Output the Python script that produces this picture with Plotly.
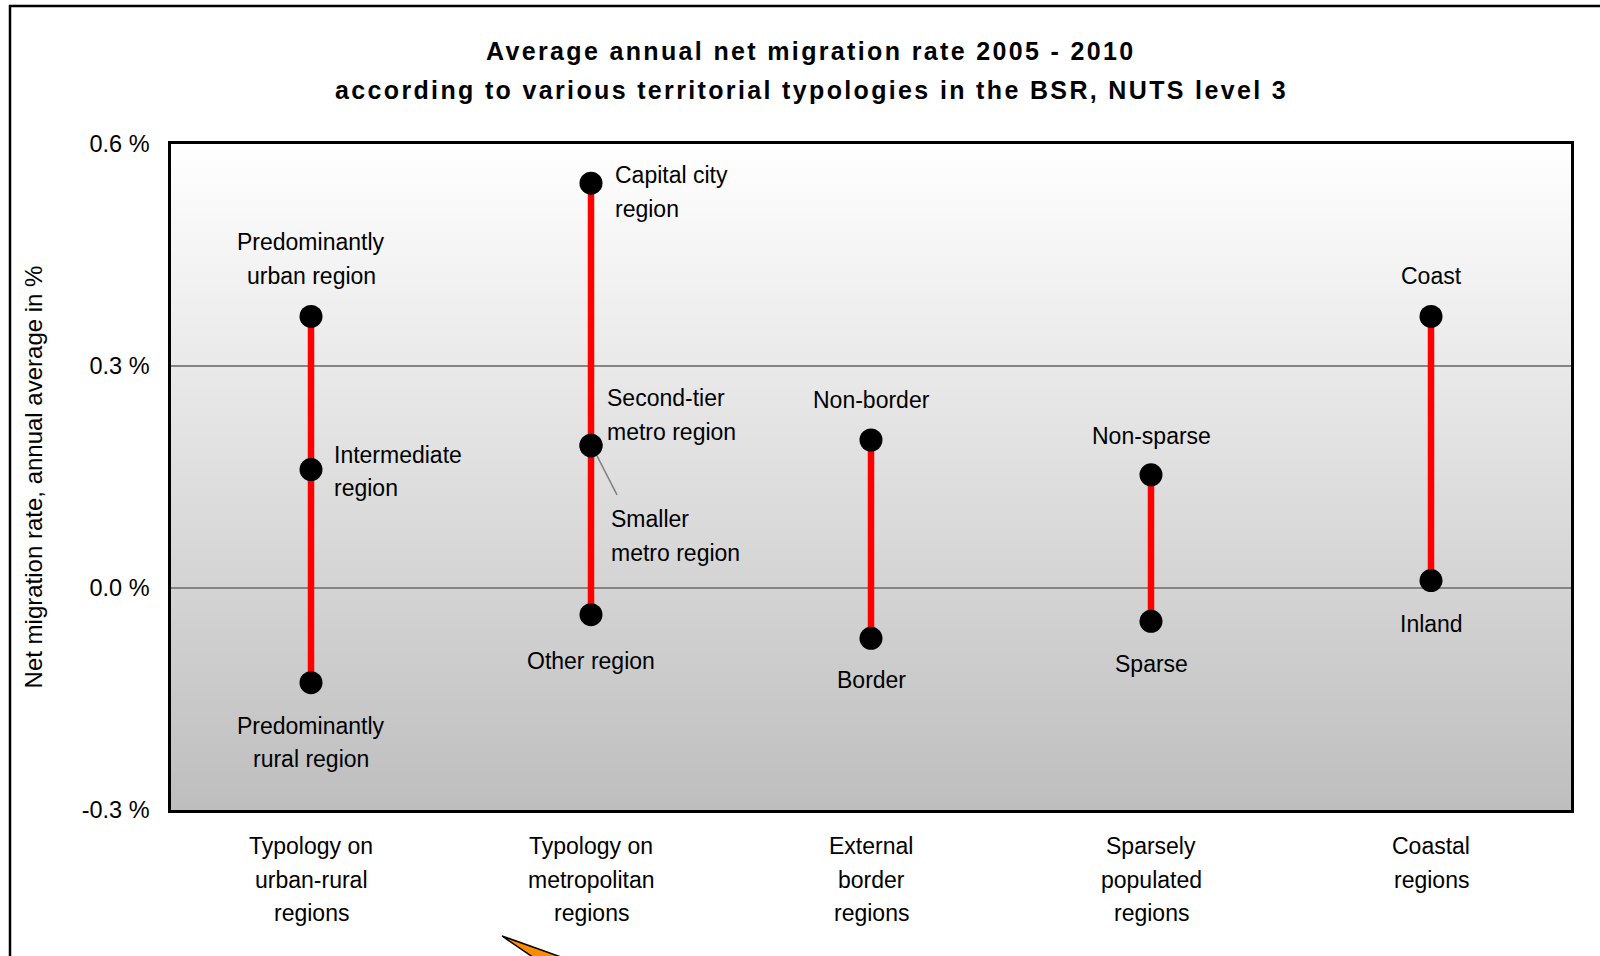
import plotly.graph_objects as go

# ---- data -------------------------------------------------------------
group_labels = [
    ["Typology on", "urban-rural", "regions"],
    ["Typology on", "metropolitan", "regions"],
    ["External", "border", "regions"],
    ["Sparsely", "populated", "regions"],
    ["Coastal", "regions"],
]

urban_rural_names = ["Predominantly urban region", "Intermediate region", "Predominantly rural region"]
urban_rural_values = [0.367, 0.160, -0.128]

metro_names = ["Capital city region", "Second-tier metro region", "Smaller metro region", "Other region"]
metro_values = [0.547, 0.193, 0.192, -0.036]

border_names = ["Non-border", "Border"]
border_values = [0.200, -0.068]

sparse_names = ["Non-sparse", "Sparse"]
sparse_values = [0.153, -0.045]

coastal_names = ["Coast", "Inland"]
coastal_values = [0.367, 0.010]

y_ticks = [-0.3, 0.0, 0.3, 0.6]
y_tick_text = ["-0.3 %", "0.0 %", "0.3 %", "0.6 %"]

series = [
    (urban_rural_names, urban_rural_values),
    (metro_names, metro_values),
    (border_names, border_values),
    (sparse_names, sparse_values),
    (coastal_names, coastal_values),
]

# ---- label styling: line breaks and pixel offsets from the point --------
label_lines = {
    "Predominantly urban region": ["Predominantly", "urban region"],
    "Intermediate region": ["Intermediate", "region"],
    "Predominantly rural region": ["Predominantly", "rural region"],
    "Capital city region": ["Capital city", "region"],
    "Second-tier metro region": ["Second-tier", "metro region"],
    "Smaller metro region": ["Smaller", "metro region"],
}
# (dx, dy of first line centre, anchor); dy positive = downward
label_place = {
    "Predominantly urban region": (0, -74, "center"),
    "Intermediate region": (21, -15, "left"),
    "Predominantly rural region": (0, 43, "center"),
    "Capital city region": (22, -8, "left"),
    "Second-tier metro region": (14, -47, "left"),
    "Smaller metro region": (18, 73, "left"),
    "Other region": (0, 46, "center"),
    "Non-border": (0, -40, "center"),
    "Border": (0, 42, "center"),
    "Non-sparse": (0, -39, "center"),
    "Sparse": (0, 43, "center"),
    "Coast": (0, -40, "center"),
    "Inland": (0, 43, "center"),
}

FONT = "Arial, Liberation Sans, sans-serif"
FS = 23
LINE_GAP = 33.7

W, H = 1600, 956
ML, MR, MT, MB = 171, 29, 144, 146
PW, PH = W - ML - MR, H - MT - MB


def paper_x(px):
    return (px - ML) / PW


def paper_y(py):
    return (H - MB - py) / PH


fig = go.Figure()

# vertical range bars with end/mid points
for i, (names, vals) in enumerate(series):
    fig.add_trace(go.Scatter(
        x=[i] * len(vals), y=vals, text=names,
        mode="lines+markers",
        line=dict(color="#ff0000", width=6.5),
        marker=dict(color="black", size=23),
        hoverinfo="text+y",
        showlegend=False,
    ))

annotations = []

# point labels, one annotation per text line
for i, (names, vals) in enumerate(series):
    for name, v in zip(names, vals):
        lines = label_lines.get(name, [name])
        dx, dy, anchor = label_place[name]
        for k, ln in enumerate(lines):
            annotations.append(dict(
                x=i, y=v, xref="x", yref="y", text=ln, showarrow=False,
                xanchor=anchor, yanchor="middle",
                xshift=dx, yshift=-(dy + k * LINE_GAP),
                font=dict(family=FONT, size=FS, color="black"),
            ))

# category labels below the axis
for i, lines in enumerate(group_labels):
    for k, ln in enumerate(lines):
        annotations.append(dict(
            x=i, y=0, xref="x", yref="paper", text=ln, showarrow=False,
            xanchor="center", yanchor="middle",
            yshift=-(36 + k * LINE_GAP),
            font=dict(family=FONT, size=FS, color="black"),
        ))

# two-line title
title_lines = [
    "Average annual net migration rate 2005 - 2010",
    "according to various territorial typologies in the BSR, NUTS level 3",
]
for k, (ln, py) in enumerate(zip(title_lines, [51, 90])):
    annotations.append(dict(
        x=paper_x(811), y=paper_y(py), xref="paper", yref="paper",
        text=f'<span style="letter-spacing:2.35px">{ln}</span>',
        showarrow=False, xanchor="center", yanchor="middle",
        font=dict(family=FONT, size=25, color="black", weight="bold"),
    ))

# plot-area gradient (white at top to grey at bottom), below gridlines
shapes = []
N = 140
top_c, bot_c = 255, 190
for j in range(N):
    f = (j + 0.5) / N
    c = round(bot_c + (top_c - bot_c) * f)
    shapes.append(dict(
        type="rect", xref="x domain", yref="y domain",
        x0=0, x1=1, y0=j / N, y1=(j + 1) / N + 0.002,
        fillcolor=f"rgb({c},{c},{c})", line=dict(width=0), layer="below",
    ))

# leader line for the smaller metro region label
shapes.append(dict(
    type="line", xref="x", yref="y", xsizemode="pixel", ysizemode="pixel",
    xanchor=1, yanchor=metro_values[2],
    x0=6, y0=-10, x1=26, y1=-49,
    line=dict(color="#808080", width=1.5), layer="above",
))

# outer chart frame
shapes.append(dict(
    type="rect", xref="paper", yref="paper",
    x0=paper_x(10), x1=paper_x(1610), y0=paper_y(970), y1=paper_y(6),
    line=dict(color="black", width=2.5), fillcolor="rgba(0,0,0,0)", layer="above",
))

# fragment of a callout arrow at the lower edge
shapes.append(dict(
    type="path", xref="paper", yref="paper",
    path=(f"M {paper_x(502)} {paper_y(936)} "
          f"L {paper_x(575)} {paper_y(962)} "
          f"L {paper_x(540)} {paper_y(962)} Z"),
    fillcolor="#ff8c00", line=dict(color="black", width=1.5), layer="above",
))

fig.update_layout(
    width=W, height=H,
    margin=dict(l=ML, r=MR, t=MT, b=MB, autoexpand=False),
    paper_bgcolor="white", plot_bgcolor="rgba(0,0,0,0)",
    font=dict(family=FONT, size=FS, color="black"),
    annotations=annotations, shapes=shapes,
    showlegend=False,
)
fig.update_xaxes(
    range=[-0.5, 4.5], showticklabels=False, showgrid=False, zeroline=False,
    showline=True, mirror=True, linecolor="black", linewidth=2.5, ticks="",
    fixedrange=True,
)
fig.update_yaxes(
    range=[-0.3, 0.6], tickvals=y_ticks, ticktext=y_tick_text,
    showgrid=True, gridcolor="#858585", gridwidth=1.5, zeroline=False,
    showline=True, mirror=True, linecolor="black", linewidth=2.5, ticks="",
    ticklabelstandoff=14,
    tickfont=dict(family=FONT, size=23.5, color="black"),
    title=dict(text="Net migration rate, annual average in %", standoff=33,
               font=dict(family=FONT, size=24, color="black")),
    fixedrange=True,
)

fig.write_html("out.html")
